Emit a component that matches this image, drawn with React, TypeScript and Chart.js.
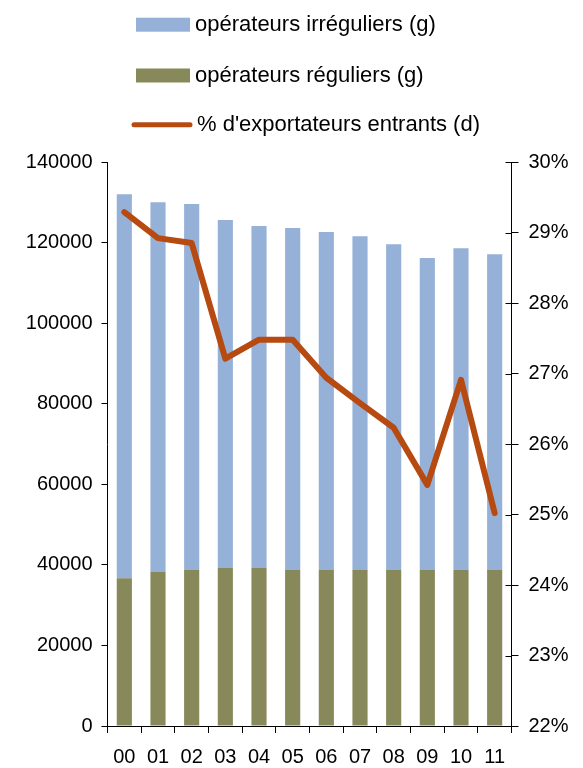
import React, { useEffect, useRef } from "react";
import { Chart, registerables } from "chart.js";

Chart.register(...registerables);

const categories = ["00", "01", "02", "03", "04", "05", "06", "07", "08", "09", "10", "11"];
const regular = [36700, 38200, 38700, 39200, 39200, 38700, 38700, 38700, 38700, 38700, 38700, 38700];
const irregular = [95300, 91800, 90900, 86400, 84900, 84900, 83900, 82900, 80900, 77500, 79900, 78400];
const entrants = [29.29, 28.92, 28.85, 27.21, 27.48, 27.48, 26.94, 26.58, 26.23, 25.42, 26.91, 25.02];

const labelIrregular = "opérateurs irréguliers (g)";
const labelRegular = "opérateurs réguliers (g)";
const labelEntrants = "% d'exportateurs entrants (d)";

const BLUE = "#96B1D8";
const OLIVE = "#88895B";
const ORANGE = "#B64A10";
const FONT = "'Liberation Sans', Arial, sans-serif";

const legendPlugin = {
  id: "customLegend",
  afterDraw(chart: any) {
    const ctx = chart.ctx;
    const ds = chart.data.datasets;
    const items = [
      { ds: ds[2], type: "box", cy: 24.7, tx: 195 },
      { ds: ds[1], type: "box", cy: 75.5, tx: 195 },
      { ds: ds[0], type: "line", cy: 124.7, tx: 197 },
    ];
    ctx.save();
    ctx.font = `22px ${FONT}`;
    ctx.textBaseline = "middle";
    ctx.textAlign = "left";
    items.forEach((it) => {
      if (it.type === "box") {
        ctx.fillStyle = it.ds.backgroundColor;
        ctx.fillRect(136, it.cy - 7, 54, 14);
      } else {
        ctx.strokeStyle = it.ds.borderColor;
        ctx.lineWidth = 5;
        ctx.lineCap = "round";
        ctx.beginPath();
        ctx.moveTo(134, it.cy);
        ctx.lineTo(190, it.cy);
        ctx.stroke();
      }
      ctx.fillStyle = "#000";
      ctx.fillText(it.ds.label, it.tx, it.cy);
    });
    ctx.restore();
  },
};

const innerTicksPlugin = {
  id: "innerTicks",
  afterDraw(chart: any) {
    const scale = chart.scales.y1;
    const ctx = chart.ctx;
    const x = chart.chartArea.right;
    ctx.save();
    ctx.strokeStyle = "#000";
    ctx.lineWidth = 1;
    scale.ticks.forEach((t: any) => {
      const y = Math.round(scale.getPixelForValue(t.value)) + 0.5;
      ctx.beginPath();
      ctx.moveTo(x - 6, y);
      ctx.lineTo(x, y);
      ctx.stroke();
    });
    ctx.restore();
  },
};

export default function App() {
  const ref = useRef<HTMLCanvasElement>(null);
  useEffect(() => {
    document.body.style.margin = "0";
    Chart.defaults.font.family = FONT;
    Chart.defaults.font.size = 20;
    Chart.defaults.color = "#000";
    const chart = new Chart(ref.current as HTMLCanvasElement, {
      type: "bar",
      data: {
        labels: categories,
        datasets: [
          {
            type: "line",
            label: labelEntrants,
            data: entrants,
            yAxisID: "y1",
            borderColor: ORANGE,
            backgroundColor: ORANGE,
            borderWidth: 6,
            pointRadius: 0,
            borderJoinStyle: "round",
            borderCapStyle: "round",
            tension: 0,
            order: 0,
          } as any,
          {
            type: "bar",
            label: labelRegular,
            data: regular,
            yAxisID: "y",
            backgroundColor: OLIVE,
            stack: "s",
            categoryPercentage: 1,
            barPercentage: 0.45,
            order: 1,
          },
          {
            type: "bar",
            label: labelIrregular,
            data: irregular,
            yAxisID: "y",
            backgroundColor: BLUE,
            stack: "s",
            categoryPercentage: 1,
            barPercentage: 0.45,
            order: 1,
          },
        ],
      },
      options: {
        responsive: false,
        animation: false,
        layout: { padding: { top: 162, left: 0, right: 0, bottom: 0 } },
        plugins: { legend: { display: false }, tooltip: { enabled: false } },
        scales: {
          x: {
            stacked: true,
            grid: {
              offset: true,
              drawOnChartArea: false,
              drawTicks: true,
              tickLength: 7,
              color: "#000",
            },
            border: { display: true, color: "#000" },
            ticks: { padding: 12, font: { size: 20 }, color: "#000", maxRotation: 0 },
            afterFit: (s: any) => {
              s.height = 42;
            },
          },
          y: {
            stacked: true,
            position: "left",
            min: 0,
            max: 140000,
            ticks: {
              stepSize: 20000,
              padding: 9,
              font: { size: 20 },
              color: "#000",
              callback: (v: any) => String(v),
            },
            grid: { drawOnChartArea: false, drawTicks: true, tickLength: 6, color: "#000" },
            border: { display: true, color: "#000" },
            afterFit: (s: any) => {
              s.width = 107.5;
            },
          },
          y1: {
            position: "right",
            min: 22,
            max: 30,
            ticks: {
              stepSize: 1,
              padding: 10,
              font: { size: 20 },
              color: "#000",
              callback: (v: any) => `${v}%`,
            },
            grid: { drawOnChartArea: false, drawTicks: true, tickLength: 7, color: "#000" },
            border: { display: true, color: "#000" },
            afterFit: (s: any) => {
              s.width = 71.5;
            },
          },
        },
      },
      plugins: [legendPlugin, innerTicksPlugin],
    });
    return () => chart.destroy();
  }, []);
  return (
    <div style={{ width: 583, height: 768 }}>
      <canvas ref={ref} width={583} height={768} />
    </div>
  );
}
